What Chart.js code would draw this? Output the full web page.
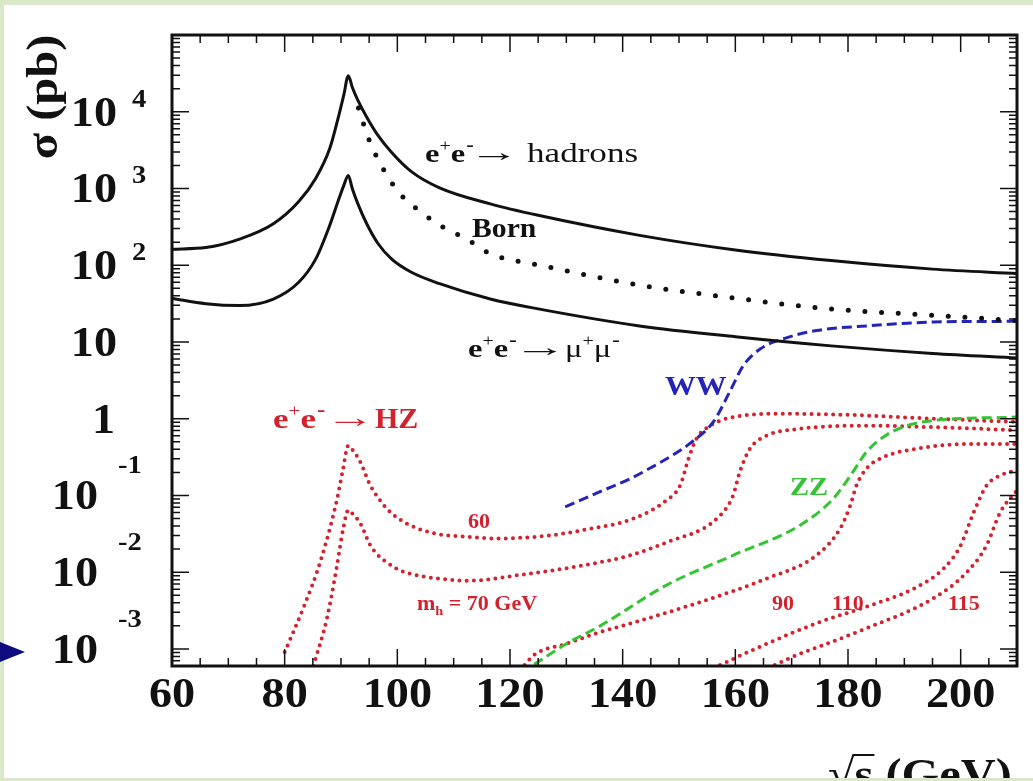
<!DOCTYPE html>
<html>
<head>
<meta charset="utf-8">
<script src="https://cdn.jsdelivr.net/npm/chart.js@4"></script>
<style>
  html, body { margin: 0; padding: 0; background: #d9e8c6; }
  canvas { display: block; }
</style>
</head>
<body>
<canvas id="chart" width="1033" height="781"></canvas>
<script>
// Cross sections vs sqrt(s) (sigma in pb, energy in GeV)

const energyHadrons = [60, 66, 72, 78, 82.5, 85.5, 88, 89.6, 90.5, 91.3, 92, 93, 94.5, 96.5, 99, 102.5, 107.5, 116.5, 125, 143, 160, 177, 195, 210];
const sigmaHadrons = [162, 170, 219, 347, 676, 1350, 3310, 8900, 16600, 29500, 20900, 14100, 8700, 5000, 2950, 1660, 1020, 630, 447, 245, 158, 115, 89, 78];

const energyMuMu = [60, 66, 72, 78, 82.5, 85.5, 88, 89.6, 90.5, 91.3, 92, 93, 94.5, 96.5, 99, 102.5, 107.5, 116.5, 125, 143, 160, 177, 195, 210];
const sigmaMuMu = [37, 31.6, 29.9, 36.3, 60, 120, 331, 724, 1100, 1480, 1000, 630, 355, 195, 120, 81, 57.5, 36.3, 27, 16.2, 11.7, 8.9, 7.1, 6.2];

const energyBorn = [93.1, 94.9, 97.3, 100.5, 105, 107.3, 112.3, 116.5, 125.3, 143.1, 159, 176.8, 194.6, 210];
const sigmaBorn = [11200, 4470, 1900, 850, 447, 339, 219, 141, 100, 55, 38, 27, 22.4, 19];

const energyWW = [129.8, 136, 141.3, 145, 149, 152, 156.1, 159, 161.4, 164.4, 168.5, 174.4, 183.3, 195.2, 210];
const sigmaWW = [0.071, 0.112, 0.165, 0.23, 0.34, 0.48, 0.91, 2.24, 4.9, 8.1, 11, 14.1, 16.2, 18.2, 18.6];

const energyZZ = [124.3, 130, 136, 147.8, 159.6, 171.5, 177.4, 180.4, 183.3, 186.3, 190.4, 195.2, 210];
const sigmaZZ = [0.00063, 0.00117, 0.002, 0.0068, 0.0166, 0.041, 0.091, 0.18, 0.37, 0.58, 0.81, 0.95, 1.05];

const energyHZ60 = [80, 83.3, 86.3, 89.2, 90.3, 91.3, 92.2, 93.4, 95.2, 96.6, 98.1, 100, 102.3, 107, 112.9, 117.6, 127.1, 133, 141.9, 147.8, 150.2, 151.7, 153.1, 155.5, 159.6, 168.5, 180.4, 195.2, 210];
const sigmaHZ60 = [0.00091, 0.0034, 0.0135, 0.083, 0.209, 0.447, 0.38, 0.275, 0.135, 0.0933, 0.0676, 0.0513, 0.0407, 0.0316, 0.0288, 0.0275, 0.0302, 0.0355, 0.05, 0.087, 0.135, 0.302, 0.55, 0.81, 1.05, 1.16, 1.12, 1.0, 0.91];

const energyHZ70 = [85.1, 87.5, 89.2, 90.4, 91.3, 92.2, 93.4, 95.2, 96.6, 98.1, 100, 102.3, 107, 112.9, 121.2, 133, 141.3, 147.8, 156.7, 159.6, 160.8, 162.6, 165.6, 171.5, 183.3, 195.2, 210];
const sigmaHZ70 = [0.0006, 0.0025, 0.0112, 0.0372, 0.0646, 0.0562, 0.0437, 0.0224, 0.0166, 0.0135, 0.011, 0.00955, 0.0083, 0.00776, 0.0091, 0.0123, 0.0166, 0.0245, 0.05, 0.1, 0.204, 0.407, 0.603, 0.741, 0.813, 0.776, 0.708];

const energyHZ90 = [122.6, 124.2, 130, 136, 141.3, 153.7, 165.6, 174.4, 178.6, 180.4, 181.5, 183.3, 186.3, 192.2, 201.1, 210];
const sigmaHZ90 = [0.00062, 0.00083, 0.00117, 0.00166, 0.00214, 0.00407, 0.0083, 0.0166, 0.037, 0.074, 0.135, 0.224, 0.316, 0.407, 0.468, 0.468];

const energyHZ110 = [157.3, 165, 175, 184, 192, 197, 200, 202.3, 204.6, 207, 210];
const sigmaHZ110 = [0.00062, 0.00112, 0.00224, 0.0037, 0.0063, 0.0112, 0.0224, 0.06, 0.135, 0.182, 0.214];

const energyHZ115 = [167, 170, 183.3, 195.2, 201.1, 204.6, 207, 210];
const sigmaHZ115 = [0.00062, 0.00078, 0.00186, 0.0046, 0.01, 0.0224, 0.06, 0.117];

// axis ranges and tick labels
const X_MIN = 60, X_MAX = 210;
const Y_MIN = 6.2e-4, Y_MAX = 1e5;
const xTickLabels = [60, 80, 100, 120, 140, 160, 180, 200];
const yTickLabels = [1e-3, 1e-2, 1e-1, 1, 10, 1e2, 1e3, 1e4];

const SERIF = '"Liberation Serif", "DejaVu Serif", serif';
const SX = 1.1; // the picture's lettering is a bit wide
const GREEN = "#d9e8c6";
const RED = "#d2222e";

const pts = (xs, ys) => xs.map((x, i) => ({ x, y: ys[i] }));

const solid = (data) => ({ data, borderColor: "#111", borderWidth: 3 });
const dotted = (data, color, size, gap) => ({
  data,
  borderColor: color,
  borderWidth: size,
  borderDash: [0, gap],
  borderCapStyle: "round",
});
const dashed = (data, color) => ({ data, borderColor: color, borderWidth: 3, borderDash: [10, 5] });

// ── text helpers ─────────────────────────────────────────────

function drawText(ctx, s, x, y, font, color, sx = SX) {
  ctx.save();
  ctx.font = font;
  ctx.fillStyle = color;
  ctx.textBaseline = "alphabetic";
  const w = ctx.measureText(s).width * sx;
  ctx.translate(x, y);
  ctx.scale(sx, 1);
  ctx.fillText(s, 0, 0);
  ctx.restore();
  return x + w;
}

function textWidth(ctx, s, font, sx = SX) {
  ctx.save();
  ctx.font = font;
  const w = ctx.measureText(s).width * sx;
  ctx.restore();
  return w;
}

// arrow glyph stretched so its ink spans x0..x1
function drawArrow(ctx, x0, x1, y, size, color) {
  ctx.save();
  ctx.font = `${size}px ${SERIF}`;
  const m = ctx.measureText("\u2192");
  const ink = m.actualBoundingBoxLeft + m.actualBoundingBoxRight;
  const sx = (x1 - x0) / ink;
  ctx.translate(x0 + m.actualBoundingBoxLeft * sx, y);
  ctx.scale(sx, 1);
  ctx.fillStyle = color;
  ctx.fillText("\u2192", 0, 0);
  ctx.restore();
}

// e+e- with raised charges, returns end x
function drawEE(ctx, x, y, size, color) {
  const b = `bold ${size}px ${SERIF}`;
  const sup = `${Math.round(size * 0.62)}px ${SERIF}`;
  const minus = `bold ${Math.round(size * 0.7)}px ${SERIF}`;
  const up = -Math.round(size * 0.42);
  let cx = drawText(ctx, "e", x, y, b, color, 1.25);
  cx = drawText(ctx, "+", cx, y + up, sup, color, 1.25);
  cx = drawText(ctx, "e", cx, y, b, color, 1.25);
  return drawText(ctx, "-", cx + 1, y + up, minus, color, 1.25);
}

const decor = {
  id: "decor",
  beforeDraw(chart) {
    const ctx = chart.ctx;
    ctx.save();
    ctx.fillStyle = GREEN;
    ctx.fillRect(0, 0, chart.width, chart.height);
    ctx.fillStyle = "#fff";
    ctx.fillRect(4, 5, chart.width - 4, 773);
    ctx.restore();
  },
  afterDatasetsDraw(chart) {
    const ctx = chart.ctx;
    const a = chart.chartArea;
    const xs = chart.scales.x;
    const ys = chart.scales.y;
    ctx.save();
    ctx.strokeStyle = "#111";
    ctx.lineWidth = 1.5;
    ctx.beginPath();
    for (let e = X_MIN; e <= X_MAX; e += 5) {
      const px = xs.getPixelForValue(e);
      const len = e % 20 === 0 ? 17 : 8;
      ctx.moveTo(px, a.bottom); ctx.lineTo(px, a.bottom - len);
      ctx.moveTo(px, a.top); ctx.lineTo(px, a.top + len);
    }
    for (let d = -4; d <= 5; d++) {
      for (let m = 1; m <= 9; m++) {
        const v = m * Math.pow(10, d);
        if (v < Y_MIN || v > Y_MAX) continue;
        const py = ys.getPixelForValue(v);
        const len = m === 1 ? 17 : 8;
        ctx.moveTo(a.left, py); ctx.lineTo(a.left + len, py);
        ctx.moveTo(a.right, py); ctx.lineTo(a.right - len, py);
      }
    }
    ctx.stroke();
    ctx.lineWidth = 3;
    ctx.strokeRect(a.left, a.top, a.right - a.left, a.bottom - a.top);
    ctx.restore();
  },
  afterDraw(chart) {
    const ctx = chart.ctx;
    const xs = chart.scales.x;
    const ys = chart.scales.y;
    const big = `bold 42px ${SERIF}`;
    const expo = `bold 26px ${SERIF}`;

    // x tick labels
    xTickLabels.forEach((v) => {
      const s = String(v);
      const w = textWidth(ctx, s, big);
      drawText(ctx, s, xs.getPixelForValue(v) - w / 2, 707, big, "#111");
    });

    // y tick labels, "10" with the exponent set up to the right
    yTickLabels.forEach((v) => {
      const py = ys.getPixelForValue(v);
      const p = Math.round(Math.log10(v));
      if (p === 0) {
        drawText(ctx, "1", 115 - textWidth(ctx, "1", big), py + 14, big, "#111");
      } else if (p === 1) {
        drawText(ctx, "10", 117 - textWidth(ctx, "10", big), py + 14, big, "#111");
      } else if (p > 1) {
        drawText(ctx, "10", 117 - textWidth(ctx, "10", big), py + 14, big, "#111");
        drawText(ctx, String(p), 132, py - 5, expo, "#111");
      } else {
        drawText(ctx, "10", 98 - textWidth(ctx, "10", big), py + 14, big, "#111");
        drawText(ctx, String(p), 118, py - 22, expo, "#111");
      }
    });

    // y axis title, rotated
    ctx.save();
    ctx.translate(57, 97);
    ctx.rotate(-Math.PI / 2);
    const yt = `bold 44px ${SERIF}`;
    const ytw = textWidth(ctx, "\u03c3 (pb)", yt);
    drawText(ctx, "\u03c3 (pb)", -ytw / 2, 0, yt, "#111");
    ctx.restore();

    // x axis title: sqrt(s) (GeV), cut by the frame at the bottom
    const xt = `bold 44px ${SERIF}`;
    const rootFont = `44px ${SERIF}`;
    const x0 = 828, base = 789;
    const xr = drawText(ctx, "\u221a", x0, base, rootFont, "#111");
    const xsEnd = drawText(ctx, "s", xr, base, xt, "#111");
    drawText(ctx, " (GeV)", xsEnd, base, xt, "#111");
    ctx.save();
    ctx.font = rootFont;
    const top = base - ctx.measureText("\u221a").actualBoundingBoxAscent;
    ctx.strokeStyle = "#111";
    ctx.lineWidth = 2;
    ctx.beginPath();
    ctx.moveTo(xr - 2, top + 1);
    ctx.lineTo(xsEnd + 1, top + 1);
    ctx.stroke();
    ctx.restore();

    // curve labels
    drawEE(ctx, 425, 162, 26, "#111");
    drawArrow(ctx, 479, 510, 161, 26, "#111");
    drawText(ctx, "hadrons", 527, 162, `27px ${SERIF}`, "#111", 1.3);

    drawText(ctx, "Born", 472, 237, `bold 27px ${SERIF}`, "#111");

    drawEE(ctx, 468, 357, 26, "#111");
    drawArrow(ctx, 524, 557, 356, 26, "#111");
    let mx = drawText(ctx, "\u03bc", 565, 357, `26px ${SERIF}`, "#111", 1.25);
    mx = drawText(ctx, "+", mx, 346, `16px ${SERIF}`, "#111", 1.25);
    mx = drawText(ctx, "\u03bc", mx, 357, `26px ${SERIF}`, "#111", 1.25);
    drawText(ctx, "-", mx + 1, 346, `bold 18px ${SERIF}`, "#111", 1.25);

    drawText(ctx, "WW", 665, 395, `bold 28px ${SERIF}`, "#2424b8");
    drawText(ctx, "ZZ", 790, 495, `bold 26px ${SERIF}`, "#33c433");

    drawEE(ctx, 273, 428, 28, RED);
    drawArrow(ctx, 334, 366, 427, 28, RED);
    drawText(ctx, "HZ", 375, 428, `bold 30px ${SERIF}`, RED, 1.0);

    const r20 = `bold 20px ${SERIF}`;
    drawText(ctx, "60", 468, 528, r20, RED);
    let hx = drawText(ctx, "m", 417, 610, r20, RED);
    hx = drawText(ctx, "h", hx, 615, `bold 13px ${SERIF}`, RED);
    drawText(ctx, " = 70 GeV", hx, 610, r20, RED);
    drawText(ctx, "90", 772, 610, r20, RED);
    drawText(ctx, "110", 832, 610, r20, RED);
    drawText(ctx, "115", 948, 610, r20, RED);

    // navy pointer on the left edge
    ctx.save();
    ctx.fillStyle = "#0c0c80";
    ctx.beginPath();
    ctx.moveTo(0, 642);
    ctx.lineTo(25, 652);
    ctx.lineTo(0, 662);
    ctx.closePath();
    ctx.fill();
    // bottom band of the green border
    ctx.fillStyle = GREEN;
    ctx.fillRect(0, 778, chart.width, 3);
    ctx.restore();
  },
};

new Chart(document.getElementById("chart"), {
  type: "line",
  data: {
    datasets: [
      solid(pts(energyHadrons, sigmaHadrons)),
      solid(pts(energyMuMu, sigmaMuMu)),
      dotted(pts(energyBorn, sigmaBorn), "#111", 5, 16.7),
      dashed(pts(energyWW, sigmaWW), "#2424b8"),
      dashed(pts(energyZZ, sigmaZZ), "#33c433"),
      dotted(pts(energyHZ60, sigmaHZ60), RED, 4, 7.2),
      dotted(pts(energyHZ70, sigmaHZ70), RED, 4, 7.2),
      dotted(pts(energyHZ90, sigmaHZ90), RED, 4, 7.2),
      dotted(pts(energyHZ110, sigmaHZ110), RED, 4, 7.2),
      dotted(pts(energyHZ115, sigmaHZ115), RED, 4, 7.2),
    ],
  },
  options: {
    responsive: false,
    animation: false,
    events: [],
    layout: { padding: { left: 172, top: 35, right: 16, bottom: 115 } },
    elements: {
      point: { radius: 0 },
      line: { cubicInterpolationMode: "monotone", fill: false },
    },
    plugins: { legend: { display: false }, tooltip: { enabled: false } },
    scales: {
      x: {
        type: "linear",
        min: X_MIN,
        max: X_MAX,
        ticks: { display: false },
        grid: { display: false, drawTicks: false },
        border: { display: false },
      },
      y: {
        type: "logarithmic",
        min: Y_MIN,
        max: Y_MAX,
        ticks: { display: false },
        grid: { display: false, drawTicks: false },
        border: { display: false },
      },
    },
  },
  plugins: [decor],
});
</script>
</body>
</html>
